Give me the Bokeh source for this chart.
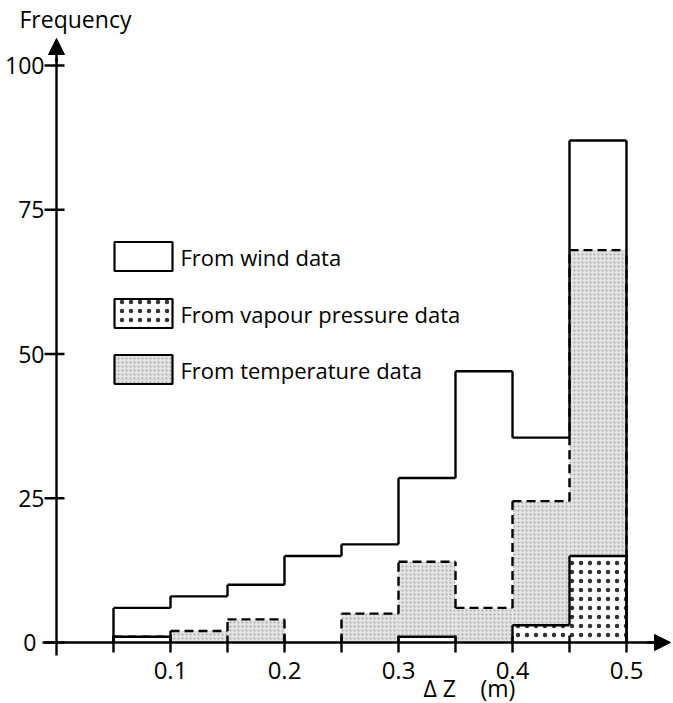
from bokeh.plotting import figure
from bokeh.models import Range1d, Arrow, NormalHead
from bokeh.core.properties import value
from bokeh.embed import file_html
from bokeh.resources import INLINE

# ---------------- data ----------------
bin_left = [0.05, 0.10, 0.15, 0.20, 0.25, 0.30, 0.35, 0.40, 0.45]
bin_width = 0.05
wind = [6, 8, 10, 15, 17, 28.5, 47, 35.5, 87]
vapour = [1, 0, 0, 0, 0, 1, 0, 3, 15]
temperature = [1, 2, 4, 0, 5, 14, 6, 24.5, 68]

x_ticks = [0.05, 0.10, 0.15, 0.20, 0.25, 0.30, 0.35, 0.40, 0.45, 0.50]
x_tick_labels = ["0.1", "0.2", "0.3", "0.4", "0.5"]
x_label_pos = [0.1, 0.2, 0.3, 0.4, 0.5]
y_ticks = [0, 25, 50, 75, 100]
y_tick_labels = ["0", "25", "50", "75", "100"]
legend_labels = ["From wind data", "From vapour pressure data", "From temperature data"]
x_title_parts = ["Δ Z", "(m)"]

FONT = value("Open Sans")
W, H = 673, 703
X0PX, XS = 56, 1140.0    # pixel of x=0, pixels per unit
Y0PX, YS = 642, 5.77     # pixel of y=0, pixels per unit

p = figure(width=W, height=H, output_backend="svg", toolbar_location=None,
           x_range=Range1d(-X0PX / XS, (W - X0PX) / XS),
           y_range=Range1d(-(H - Y0PX) / YS, Y0PX / YS),
           x_axis_location=None, y_axis_location=None, min_border=0)
p.grid.visible = False
p.outline_line_color = None
p.background_fill_color = "white"

def dx(px):  # pixel offset -> data units
    return px / XS

def dy(px):
    return px / YS

right = [b + bin_width for b in bin_left]

# temperature fill (stippled grey)
p.quad(left=bin_left, right=right, bottom=0, top=temperature,
       fill_color="#e3e3e3", line_color=None,
       hatch_pattern="dot", hatch_color="#a8a8a8", hatch_scale=4, hatch_weight=0.7)
# vapour fill (dots)
p.quad(left=bin_left, right=right, bottom=0, top=vapour,
       fill_color="white", line_color=None,
       hatch_pattern="dot", hatch_color="#333333", hatch_scale=9, hatch_weight=1.2)

def outline(heights):
    edges = bin_left + [bin_left[-1] + bin_width]
    hp = [0] + list(heights) + [0]
    xs, ys = [], []
    for i, e in enumerate(edges):
        a, b = hp[i], hp[i + 1]
        if a != b:
            xs.append([e, e]); ys.append([min(a, b), max(a, b)])
    for l, h in zip(bin_left, heights):
        if h > 0:
            xs.append([l, l + bin_width]); ys.append([h, h])
    return xs, ys

tx, ty = outline(temperature)
p.multi_line(tx, ty, line_color="black", line_width=2.4, line_dash="9 5")
vx, vy = outline(vapour)
p.multi_line(vx, vy, line_color="black", line_width=2.4)
wx, wy = outline(wind)
p.multi_line(wx, wy, line_color="black", line_width=2.4)

# axes
p.segment(x0=[-dx(14)], y0=[0], x1=[dx(600)], y1=[0], line_color="black", line_width=2.4)
p.segment(x0=[0], y0=[-dy(13)], x1=[0], y1=[dy(585)], line_color="black", line_width=2.4)
p.add_layout(Arrow(end=NormalHead(size=16, fill_color="black", line_color="black"),
                   x_start=dx(590), y_start=0, x_end=dx(614), y_end=0, line_width=2.4))
p.add_layout(Arrow(end=NormalHead(size=16, fill_color="black", line_color="black"),
                   x_start=0, y_start=dy(580), x_end=0, y_end=dy(604), line_width=2.4))

# ticks
p.segment(x0=x_ticks, y0=[-dy(10)] * len(x_ticks), x1=x_ticks, y1=[dy(7)] * len(x_ticks),
          line_color="black", line_width=2.4)
p.segment(x0=[-dx(12)] * len(y_ticks), y0=y_ticks, x1=[dx(8)] * len(y_ticks), y1=y_ticks,
          line_color="black", line_width=2.4)

# tick labels
p.text(x=x_label_pos, y=[-dy(28)] * len(x_label_pos), text=x_tick_labels,
       text_font=FONT, text_font_size="24px", text_align="center", text_baseline="middle",
       text_color="black")
ylab_x = [-dx(20)] + [-dx(12)] * (len(y_ticks) - 1)
p.text(x=ylab_x, y=y_ticks, text=y_tick_labels,
       text_font=FONT, text_font_size="23px", text_align="right", text_baseline="middle",
       text_color="black")

# axis titles
p.text(x=[-dx(37)], y=[dy(624)], text=["Frequency"], text_font=FONT, text_font_size="23px",
       text_align="left", text_baseline="middle", text_color="black")
p.text(x=[dx(367), dx(424)], y=[-dy(45)] * 2, text=x_title_parts, text_font=FONT,
       text_font_size="23px", text_align="left", text_baseline="middle", text_color="black")

# legend
leg_y = [dy(386), dy(329), dy(273)]
leg_x = dx(87)
p.rect(x=[leg_x], y=[leg_y[0]], width=58, height=29, width_units="screen", height_units="screen",
       fill_color="white", line_color="black", line_width=2.2)
p.rect(x=[leg_x], y=[leg_y[1]], width=58, height=29, width_units="screen", height_units="screen",
       fill_color="white", line_color="black", line_width=2.2,
       hatch_pattern="dot", hatch_color="#333333", hatch_scale=9, hatch_weight=1.2)
p.rect(x=[leg_x], y=[leg_y[2]], width=58, height=29, width_units="screen", height_units="screen",
       fill_color="#e3e3e3", line_color="black", line_width=2.2,
       hatch_pattern="dot", hatch_color="#a8a8a8", hatch_scale=4, hatch_weight=0.7)
p.text(x=[dx(124)] * 3, y=leg_y, text=legend_labels, text_font=FONT, text_font_size="22px",
       text_align="left", text_baseline="middle", text_color="black")

open("out.html", "w").write(file_html(p, INLINE))
